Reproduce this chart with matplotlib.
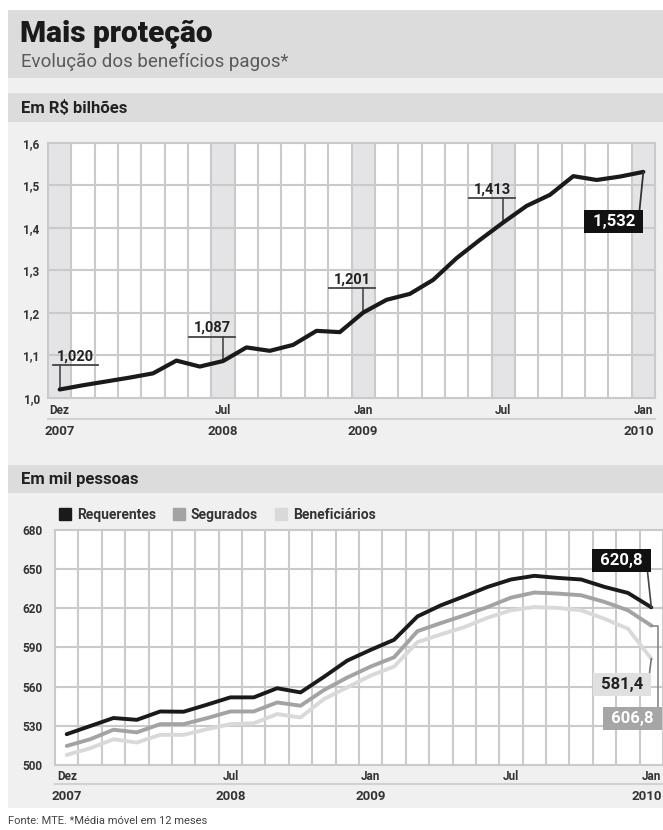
import matplotlib
matplotlib.use("Agg")
import matplotlib.pyplot as plt
from matplotlib.patches import Rectangle
from matplotlib.lines import Line2D

# ---------------- data ----------------
months = ["Dez", "Jan", "Fev", "Mar", "Abr", "Mai", "Jun", "Jul", "Ago", "Set", "Out", "Nov",
          "Dez", "Jan", "Fev", "Mar", "Abr", "Mai", "Jun", "Jul", "Ago", "Set", "Out", "Nov",
          "Dez", "Jan"]
tick_idx = [0, 7, 13, 19, 25]
tick_labels = ["Dez", "Jul", "Jan", "Jul", "Jan"]
year_idx = [0, 7, 13, 25]
year_labels = ["2007", "2008", "2009", "2010"]

valor_bilhoes = [1.020, 1.030, 1.039, 1.048, 1.058, 1.088, 1.074, 1.087, 1.119, 1.111,
                 1.125, 1.158, 1.155, 1.201, 1.231, 1.245, 1.278, 1.329, 1.372, 1.413,
                 1.452, 1.478, 1.522, 1.513, 1.521, 1.532]
top_yticks = [1.0, 1.1, 1.2, 1.3, 1.4, 1.5, 1.6]
top_ytick_labels = ["1,0", "1,1", "1,2", "1,3", "1,4", "1,5", "1,6"]
top_label_idx = [0, 7, 13, 19]
top_label_txt = ["1,020", "1,087", "1,201", "1,413"]
top_last_txt = "1,532"

requerentes = [523.6, 529.8, 536.0, 534.6, 541.0, 540.8, 546.2, 551.8, 551.8, 558.8,
               555.6, 567.5, 580.0, 588.2, 595.9, 613.8, 622.3, 629.2, 636.4, 642.1,
               644.9, 643.3, 642.1, 636.4, 631.8, 620.8]
segurados = [514.6, 519.7, 527.0, 525.0, 531.3, 531.3, 535.9, 541.0, 541.0, 547.9,
             545.4, 557.4, 567.0, 575.4, 582.5, 602.5, 608.7, 614.6, 621.0, 628.2,
             632.1, 631.3, 630.0, 624.9, 618.5, 606.8]
beneficiarios = [507.7, 512.8, 519.7, 517.2, 523.1, 523.1, 527.4, 531.3, 532.0, 539.0,
                 536.4, 550.5, 559.5, 568.5, 575.4, 594.1, 600.0, 605.6, 612.8, 618.5,
                 621.0, 620.3, 618.5, 612.0, 604.4, 581.4]
bot_yticks = [500, 530, 560, 590, 620, 650, 680]
series_names = ["Requerentes", "Segurados", "Beneficiários"]
series_last_txt = ["620,8", "606,8", "581,4"]

plt.rcParams["font.family"] = ["Roboto", "DejaVu Sans"]

W, H = 663, 830
fig = plt.figure(figsize=(W / 100, H / 100), dpi=100)
fig.patch.set_facecolor("white")


def fx(x):
    return x / W


def fy(y):
    return 1 - y / H


def band(x0, y0, x1, y1, color):
    fig.patches.append(Rectangle((fx(x0), fy(y1)), fx(x1) - fx(x0), fy(y0) - fy(y1),
                                 transform=fig.transFigure, facecolor=color,
                                 edgecolor="none", zorder=-10))


band(8, 10, 663, 808, "#f0f0f0")
band(8, 10, 663, 78, "#dcdcdc")
band(8, 93, 663, 122, "#dcdcdc")
band(8, 465, 663, 493, "#dcdcdc")

fig.text(fx(20), fy(41), "Mais proteção", fontsize=21.5, fontweight="black",
         color="#1a1a1a", va="baseline", ha="left")
fig.text(fx(21), fy(67), "Evolução dos benefícios pagos*", fontsize=13.5,
         fontweight="normal", color="#5a5a5a", va="baseline", ha="left")
fig.text(fx(21), fy(108), "Em R$ bilhões", fontsize=12, fontweight="bold",
         color="#222222", va="center", ha="left")
fig.text(fx(21), fy(479), "Em mil pessoas", fontsize=12, fontweight="bold",
         color="#222222", va="center", ha="left")
fig.text(fx(8), fy(821), "Fonte: MTE. *Média móvel em 12 meses", fontsize=8,
         color="#444444", va="center", ha="left")

GRID = "#cacaca"
x = list(range(len(months)))


def grid_cells(ax, yticks):
    for k in range(len(months) + 1):
        ax.axvline(k - 0.5, color=GRID, lw=1.5, zorder=1, clip_on=False)
    for yv in yticks:
        ax.axhline(yv, color=GRID, lw=1.5, zorder=1, clip_on=False)


def style_axis(ax, pad_y, pad_x, year_y, sep_y):
    ax.set_facecolor("white")
    for s in ax.spines.values():
        s.set_visible(False)
    ax.set_xlim(-0.5, len(months) - 0.5)
    ax.set_xticks(tick_idx)
    ax.set_xticklabels(tick_labels)
    ax.tick_params(axis="both", length=0, labelcolor="#333333", labelsize=8.5)
    ax.tick_params(axis="y", pad=pad_y)
    ax.tick_params(axis="x", pad=pad_x)
    for lab in ax.get_xticklabels() + ax.get_yticklabels():
        lab.set_fontweight("bold")
    tr = matplotlib.transforms.blended_transform_factory(ax.transData, ax.transAxes)
    last = len(months) - 1
    for i, yl in zip(year_idx, year_labels):
        if i == last:
            ax.text(i + 0.45, year_y, yl, transform=tr, ha="right", va="center",
                    fontsize=9.5, fontweight="bold", color="#333333", clip_on=False)
        else:
            ax.text(i, year_y, yl, transform=tr, ha="center", va="center", fontsize=9.5,
                    fontweight="bold", color="#333333", clip_on=False)
    ax.add_line(Line2D([0, 1], [sep_y, sep_y], transform=ax.transAxes, color="#d2d2d2",
                       lw=1.5, clip_on=False))


# ---------------- top chart ----------------
ax1 = fig.add_axes([fx(48), fy(398), 607 / W, 255 / H])
ax1.set_ylim(1.0, 1.6)
for i in tick_idx:
    ax1.axvspan(i - 0.5, i + 0.5, color="#e4e4e6", zorder=0, lw=0)
grid_cells(ax1, top_yticks)
ax1.set_yticks(top_yticks)
ax1.set_yticklabels(top_ytick_labels)
style_axis(ax1, 6, 4.5, -0.133, -0.082)
ax1.plot(x, valor_bilhoes, color="#1a1a1a", lw=3, solid_joinstyle="round",
         solid_capstyle="round", zorder=5)

bar_off = 0.057
for i, txt in zip(top_label_idx, top_label_txt):
    v = valor_bilhoes[i]
    if i == 0:
        l, r = i - 0.3, i + 1.65
    else:
        l, r = i - 1.45, i + 0.5
    yb = v + bar_off
    ax1.plot([l, r], [yb, yb], color="#444444", lw=1.3, zorder=6, clip_on=False)
    ax1.plot([i, i], [v, yb], color="#555555", lw=1.3, zorder=4)
    ax1.annotate(txt, xy=((l + r) / 2, yb), xytext=(0, 1.5), textcoords="offset points",
                 ha="center", va="bottom", fontsize=10.5, fontweight="bold", color="#222222",
                 zorder=7)

BOX_PAD_X = 0.18  # box padding expressed in month units
box_kw = dict(fontsize=12, fontweight="bold", zorder=8, textcoords="data", ha="right")
last = x[-1]
ax1.annotate(" " + top_last_txt + " ", xy=(last, valor_bilhoes[-1]),
             xytext=(last - BOX_PAD_X, valor_bilhoes[-1] - 0.0995),
             va="top", color="white",
             bbox=dict(boxstyle="square,pad=0.25", fc="#111111", ec="none"),
             arrowprops=dict(arrowstyle="-", color="#333333", lw=1.3, relpos=(1, 1),
                             shrinkA=0, shrinkB=0), **box_kw)

# ---------------- bottom chart ----------------
ax2 = fig.add_axes([fx(55), fy(765), 608 / W, 235 / H])
ax2.set_ylim(500, 680)
grid_cells(ax2, bot_yticks)
ax2.set_yticks(bot_yticks)
ax2.set_yticklabels([str(v) for v in bot_yticks])
style_axis(ax2, 9, 3.5, -0.136, -0.081)

colors = ["#1a1a1a", "#a3a3a3", "#d9d9d9"]
for vals, c in zip([requerentes, segurados, beneficiarios], colors):
    ax2.plot(x, vals, color=c, lw=2.8, solid_joinstyle="round", solid_capstyle="round",
             zorder=5)

handles = [Line2D([], [], marker="s", ls="", color=c, markersize=8) for c in colors]
leg = ax2.legend(handles, series_names, ncol=3, loc="center left",
                 bbox_to_anchor=(fx(59), fy(515)), bbox_transform=fig.transFigure,
                 frameon=False, handletextpad=0.4, columnspacing=1.2, handlelength=0.9,
                 prop={"size": 10, "weight": "bold"}, borderaxespad=0, borderpad=0)
for t in leg.get_texts():
    t.set_color("#333333")

# 620,8 black box above the end point
ax2.annotate(" " + series_last_txt[0] + " ", xy=(last, requerentes[-1]),
             xytext=(last - BOX_PAD_X, requerentes[-1] + 30.2),
             va="bottom", color="white",
             bbox=dict(boxstyle="square,pad=0.25", fc="#111111", ec="none"),
             arrowprops=dict(arrowstyle="-", color="#444444", lw=1.2, relpos=(1, 0),
                             shrinkA=0, shrinkB=0), **box_kw)
# 581,4 light box below
ax2.annotate(" " + series_last_txt[2] + " ", xy=(last, beneficiarios[-1]),
             xytext=(last - BOX_PAD_X, beneficiarios[-1] - 14.1),
             va="top", color="#222222",
             bbox=dict(boxstyle="square,pad=0.25", fc="#e0e0e0", ec="none"),
             arrowprops=dict(arrowstyle="-", color="#777777", lw=1.2, relpos=(1, 0),
                             shrinkA=0, shrinkB=0), **box_kw)
# 606,8 gray box further below
ax2.annotate(" " + series_last_txt[1] + " ", xy=(last, segurados[-1]),
             xytext=(last + 0.28, segurados[-1] - 65.6),
             va="top", color="white",
             bbox=dict(boxstyle="square,pad=0.25", fc="#a6a6a6", ec="none"),
             arrowprops=dict(arrowstyle="-", color="#888888", lw=1.2, relpos=(1, 1),
                             shrinkA=0, shrinkB=0,
                             connectionstyle="angle,angleA=90,angleB=0,rad=0"),
             **box_kw)

fig.savefig("out.png", dpi=100)
